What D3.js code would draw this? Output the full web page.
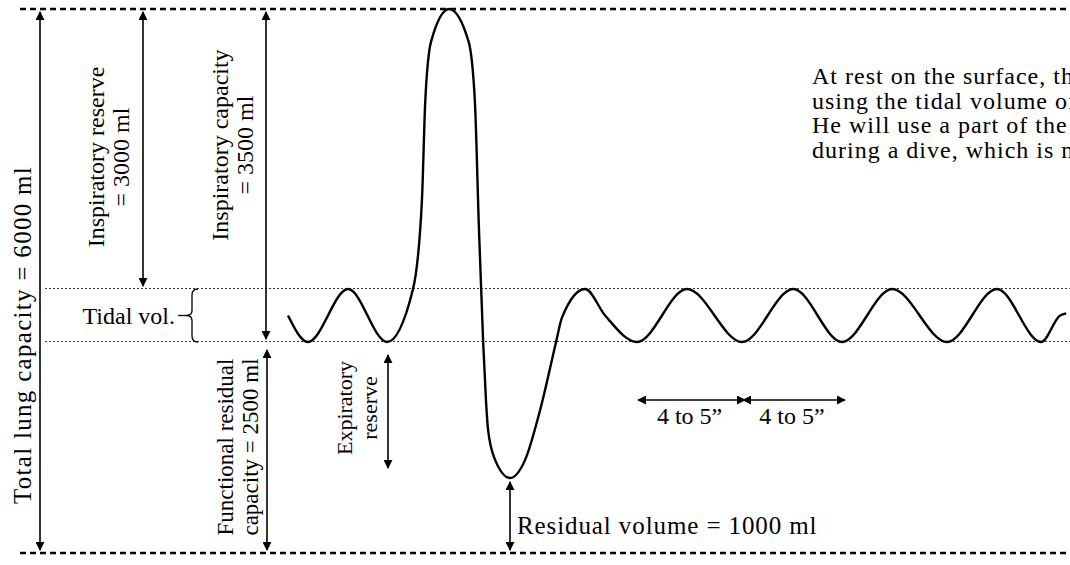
<!DOCTYPE html>
<html>
<head>
<meta charset="utf-8">
<script src="https://cdn.jsdelivr.net/npm/d3@7"></script>
<style>
  body { margin: 0; background: #fff; }
  text { font-family: "Liberation Serif", "Times New Roman", serif; fill: #000; }
</style>
</head>
<body>
<div id="wrapper"></div>
<script>
// breathing trace: time (s) and lung volume (ml)
const traceTime = [0, 0.85, 2.56, 4.22, 5.33, 5.71, 5.85, 6.1, 6.87, 7.7, 7.97, 8.14, 8.32, 8.44, 8.53, 8.83, 9.47, 10.11, 10.75, 11.43, 11.68, 12.67, 13.52, 14.88, 17.01, 19.36, 21.54, 23.62, 25.76, 28.1, 30.23, 32.11, 32.92, 33.18]
const traceVolume = [2750, 2500, 3000, 2500, 3000, 3950, 5000, 5650, 6000, 5650, 5000, 3650, 2500, 1860, 1530, 1200, 1000, 1200, 1750, 2500, 2730, 3000, 2750, 2500, 3000, 2500, 3000, 2500, 3000, 2500, 3000, 2500, 2750, 2770]

// volume levels (ml)
const totalCapacity = 6000
const tidalTop = 3000
const frc = 2500
const residual = 1000

// breath cycle markers (s)
const cycleStarts = [14.88, 19.36]
const cycleEnds = [19.36, 23.62]
const cycleLabel = "4 to 5\u201D"

const noteLines = [
  "At rest on the surface, the diver breathes",
  "using the tidal volume of about 500 ml.",
  "He will use a part of the inspiratory reserve",
  "during a dive, which is not a problem."
]

const width = 1070
const height = 565

const svg = d3.select("#wrapper").append("svg")
  .attr("width", width)
  .attr("height", height)

const defs = svg.append("defs")
defs.append("marker")
  .attr("id", "head")
  .attr("viewBox", "0 0 10 10")
  .attr("refX", 9).attr("refY", 5)
  .attr("markerWidth", 9).attr("markerHeight", 9)
  .attr("markerUnits", "userSpaceOnUse")
  .attr("orient", "auto-start-reverse")
  .append("path")
    .attr("d", "M0,0 L10,5 L0,10 z")
    .attr("fill", "#000")

// scales -- the figure is not drawn to scale, so volume is piecewise
const x = d3.scaleLinear().domain([0, 33]).range([288, 1062])
const y = d3.scaleLinear()
  .domain([0, residual, frc, tidalTop, totalCapacity])
  .range([553, 478, 342, 289, 9])

// reference lines
;[totalCapacity, 0].forEach(v => {
  svg.append("line")
    .attr("x1", 20).attr("x2", width)
    .attr("y1", y(v)).attr("y2", y(v))
    .attr("stroke", "#000").attr("stroke-width", 2.5)
    .attr("stroke-dasharray", "6,4")
})
;[tidalTop, frc].forEach(v => {
  svg.append("line")
    .attr("x1", 45).attr("x2", width)
    .attr("y1", y(v) - 0.5).attr("y2", y(v) - 0.5)
    .attr("stroke", "#333").attr("stroke-width", 1)
    .attr("stroke-dasharray", "2,2")
})

// trace
const line = d3.line()
  .x((d, i) => x(traceTime[i]))
  .y(d => y(d))
  .curve(d3.curveMonotoneX)

svg.append("path")
  .attr("d", line(traceVolume))
  .attr("fill", "none")
  .attr("stroke", "#000")
  .attr("stroke-width", 2.4)

// vertical double arrows
const vArrow = (xp, v1, v2, pad1 = 3, pad2 = 3) => {
  svg.append("line")
    .attr("x1", xp).attr("x2", xp)
    .attr("y1", y(v1) + pad1).attr("y2", y(v2) - pad2)
    .attr("stroke", "#000").attr("stroke-width", 1.6)
    .attr("marker-start", "url(#head)")
    .attr("marker-end", "url(#head)")
}
vArrow(40, totalCapacity, 0)
vArrow(143, totalCapacity, tidalTop)
vArrow(266, totalCapacity, frc)
vArrow(267, frc, 0, 8, 3)
vArrow(388, frc, residual, 13, 10)
vArrow(510, residual, 0, 4, 3)

// rotated labels
const rotLabel = (cx, cy, lines, size = 24, gap = 25, spacing = 0) => {
  const g = svg.append("g")
    .attr("transform", `translate(${cx},${cy}) rotate(-90)`)
  lines.forEach((t, i) => {
    g.append("text")
      .attr("x", 0)
      .attr("y", (i - (lines.length - 1) / 2) * gap)
      .attr("dy", "0.35em")
      .attr("text-anchor", "middle")
      .style("font-size", size + "px")
      .style("letter-spacing", spacing + "px")
      .text(t)
  })
}
rotLabel(22, 335, ["Total lung capacity = 6000 ml"], 25, 25, 1.3)
rotLabel(108, 157, ["Inspiratory reserve", "= 3000 ml"])
rotLabel(232, 145, ["Inspiratory capacity", "= 3500 ml"])
rotLabel(237, 447, ["Functional residual", "capacity = 2500 ml"], 23)
rotLabel(357, 408, ["Expiratory", "reserve"], 22)

// tidal volume brace
const mid = (y(tidalTop) + y(frc)) / 2
svg.append("path")
  .attr("d", `M198,${y(tidalTop)} Q192,${y(tidalTop)} 192,${y(tidalTop) + 6}
    L192,${mid - 5} Q192,${mid} 186,${mid}
    Q192,${mid} 192,${mid + 5}
    L192,${y(frc) - 6} Q192,${y(frc)} 198,${y(frc)}`)
  .attr("fill", "none").attr("stroke", "#000").attr("stroke-width", 1.3)
svg.append("line")
  .attr("x1", 178).attr("x2", 186)
  .attr("y1", mid).attr("y2", mid)
  .attr("stroke", "#000").attr("stroke-width", 1.3)
svg.append("text")
  .attr("x", 175).attr("y", mid)
  .attr("dy", "0.35em")
  .attr("text-anchor", "end")
  .style("font-size", "24px")
  .text("Tidal vol.")

// breath cycle arrows
cycleStarts.forEach((t0, i) => {
  svg.append("line")
    .attr("x1", x(t0) + 1).attr("x2", x(cycleEnds[i]) + 3)
    .attr("y1", 400).attr("y2", 400)
    .attr("stroke", "#000").attr("stroke-width", 1.6)
    .attr("marker-start", "url(#head)")
    .attr("marker-end", "url(#head)")
  svg.append("text")
    .attr("x", (x(t0) + x(cycleEnds[i])) / 2)
    .attr("y", 424)
    .attr("text-anchor", "middle")
    .style("font-size", "24px")
    .text(cycleLabel)
})

// residual label
svg.append("text")
  .attr("x", 517).attr("y", 534)
  .style("font-size", "25px")
  .style("letter-spacing", "0.9px")
  .text("Residual volume = 1000 ml")

// note
svg.append("g").selectAll("text")
  .data(noteLines)
  .join("text")
    .attr("x", 812)
    .attr("y", (d, i) => 84 + i * 24.5)
    .style("font-size", "24px")
    .style("letter-spacing", "1px")
    .text(d => d)
</script>
</body>
</html>
